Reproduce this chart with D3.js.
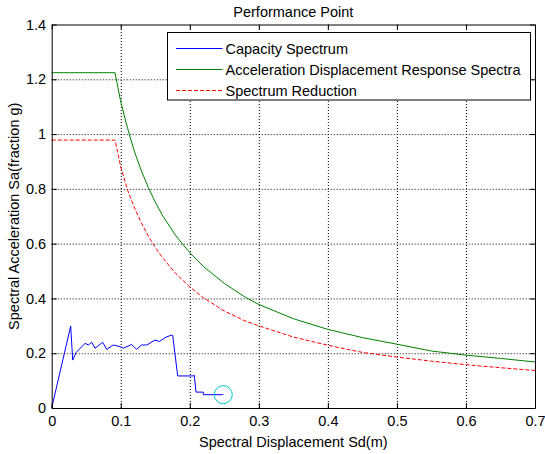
<!DOCTYPE html>
<html>
<head>
<meta charset="utf-8">
<script src="https://cdn.jsdelivr.net/npm/d3@7"></script>
<style>
  body { margin: 0; background: #fff; }
  svg { font-family: "Liberation Sans", Arial, Helvetica, sans-serif; }
  .grid line { stroke: #000; stroke-dasharray: 1,2; stroke-width: 1; }
  .grid path { display: none; }
</style>
</head>
<body>
<div id="container"></div>
<script>
/* CONSTANTS AND GLOBALS */
const width = 545,
  height = 454,
  margin = { top: 24.5, bottom: 46, left: 51.7, right: 10 },
  fontSize = 14.5

/* DATA */
// capacity spectrum
const capSd = [0, 0.0275, 0.0304, 0.0352, 0.0482, 0.053, 0.058, 0.0627, 0.0738, 0.0796, 0.0893,
  0.099, 0.1037, 0.1158, 0.123, 0.130, 0.1376, 0.1496, 0.156, 0.1665, 0.1738, 0.1752,
  0.1825, 0.205, 0.2065, 0.209, 0.2196, 0.2196, 0.2485]
const capSa = [0, 0.299, 0.175, 0.202, 0.236, 0.23, 0.24, 0.218, 0.24, 0.214, 0.23,
  0.224, 0.218, 0.232, 0.214, 0.23, 0.23, 0.248, 0.243, 0.26, 0.266, 0.266,
  0.117, 0.117, 0.12, 0.058, 0.058, 0.0486, 0.0486]

// acceleration displacement response spectra
const adrsSd = [0, 0.0917, 0.1, 0.11, 0.12, 0.13, 0.14, 0.15, 0.16, 0.18, 0.2, 0.22, 0.25, 0.28,
  0.3, 0.35, 0.4, 0.45, 0.5, 0.55, 0.6, 0.65, 0.7]
const adrsSa = [1.224, 1.224, 1.118, 1.02, 0.935, 0.865, 0.805, 0.752, 0.705, 0.628, 0.567, 0.516,
  0.455, 0.405, 0.378, 0.326, 0.287, 0.257, 0.233, 0.208, 0.193, 0.181, 0.168]

// spectrum reduction
const redSd = [0, 0.0917, 0.1, 0.11, 0.12, 0.13, 0.14, 0.15, 0.16, 0.18, 0.2, 0.22, 0.25, 0.28,
  0.3, 0.35, 0.4, 0.45, 0.5, 0.55, 0.6, 0.65, 0.7]
const redSa = [0.978, 0.978, 0.88, 0.795, 0.73, 0.675, 0.627, 0.587, 0.55, 0.49, 0.442, 0.402,
  0.354, 0.318, 0.300, 0.259, 0.229, 0.203, 0.186, 0.171, 0.158, 0.147, 0.137]

// performance point
const perfSd = [0.2485]
const perfSa = [0.0486]

const xTicks = [0, 0.1, 0.2, 0.3, 0.4, 0.5, 0.6, 0.7]
const xTickLabels = ["0", "0.1", "0.2", "0.3", "0.4", "0.5", "0.6", "0.7"]
const yTicks = [0, 0.2, 0.4, 0.6, 0.8, 1, 1.2, 1.4]
const yTickLabels = ["0", "0.2", "0.4", "0.6", "0.8", "1", "1.2", "1.4"]

const legendNames = ["Capacity Spectrum", "Acceleration Displacement Response Spectra", "Spectrum Reduction"]
const colors = ["#0000ff", "#008000", "#ff0000"]
const dashes = [null, null, "4,2"]

/* SCALES */
const xScale = d3.scaleLinear()
  .domain([0, 0.7])
  .range([margin.left, width - margin.right])

const yScale = d3.scaleLinear()
  .domain([0, 1.4])
  .range([height - margin.bottom, margin.top])

/* CREATE SVG ELEMENT */
const svg = d3.select("#container")
  .append("svg")
  .attr("width", width)
  .attr("height", height)

const plotW = width - margin.left - margin.right,
  plotH = height - margin.top - margin.bottom

// GRID
svg.append("g")
  .attr("class", "grid")
  .attr("transform", `translate(0, ${height - margin.bottom})`)
  .call(d3.axisBottom(xScale).tickValues(xTicks.slice(1, -1)).tickSize(-plotH).tickFormat(""))

svg.append("g")
  .attr("class", "grid")
  .attr("transform", `translate(${margin.left}, 0)`)
  .call(d3.axisLeft(yScale).tickValues(yTicks.slice(1, -1)).tickSize(-plotW).tickFormat(""))

// LINES
const series = [
  [capSd, capSa],
  [adrsSd, adrsSa],
  [redSd, redSa]
]

const lineGen = d3.line()
  .x(d => xScale(d[0]))
  .y(d => yScale(d[1]))

svg.append("g")
  .selectAll("path")
  .data(series)
  .join("path")
  .attr("fill", "none")
  .attr("stroke", (d, i) => colors[i])
  .attr("stroke-width", 1)
  .attr("stroke-dasharray", (d, i) => dashes[i])
  .attr("d", ([xs, ys]) => lineGen(xs.map((x, i) => [x, ys[i]])))

// performance point marker
svg.selectAll(".perf")
  .data(perfSd)
  .join("circle")
  .attr("class", "perf")
  .attr("cx", d => xScale(d))
  .attr("cy", (d, i) => yScale(perfSa[i]))
  .attr("r", 9)
  .attr("fill", "none")
  .attr("stroke", "#00c8c8")
  .attr("stroke-width", 1)

// AXES (box with inward ticks)
const styleAxis = g => {
  g.select(".domain").attr("stroke", "#000")
  g.selectAll(".tick line").attr("stroke", "#000")
  g.selectAll(".tick text").attr("font-size", fontSize).attr("fill", "#000")
}

svg.append("g")
  .attr("transform", `translate(0, ${height - margin.bottom})`)
  .call(d3.axisBottom(xScale).tickValues(xTicks).tickSizeInner(-5).tickSizeOuter(0)
    .tickPadding(8).tickFormat((d, i) => xTickLabels[i]))
  .call(styleAxis)

svg.append("g")
  .attr("transform", `translate(0, ${margin.top})`)
  .call(d3.axisTop(xScale).tickValues(xTicks).tickSizeInner(-5).tickSizeOuter(0).tickFormat(""))
  .call(styleAxis)

svg.append("g")
  .attr("transform", `translate(${margin.left}, 0)`)
  .call(d3.axisLeft(yScale).tickValues(yTicks).tickSizeInner(-5).tickSizeOuter(0)
    .tickPadding(5.5).tickFormat((d, i) => yTickLabels[i]))
  .call(styleAxis)

svg.append("g")
  .attr("transform", `translate(${width - margin.right}, 0)`)
  .call(d3.axisRight(yScale).tickValues(yTicks).tickSizeInner(-5).tickSizeOuter(0).tickFormat(""))
  .call(styleAxis)

// TITLE AND LABELS
svg.append("text")
  .attr("x", (margin.left + width - margin.right) / 2)
  .attr("y", 17)
  .attr("text-anchor", "middle")
  .attr("font-size", fontSize)
  .text("Performance Point")

svg.append("text")
  .attr("x", (margin.left + width - margin.right) / 2)
  .attr("y", 447)
  .attr("text-anchor", "middle")
  .attr("font-size", fontSize)
  .text("Spectral Displacement Sd(m)")

svg.append("text")
  .attr("transform", `translate(19, ${(margin.top + height - margin.bottom) / 2}) rotate(-90)`)
  .attr("text-anchor", "middle")
  .attr("font-size", fontSize)
  .text("Spectral Acceleration Sa(fraction g)")

// LEGEND
const legend = svg.append("g")
  .attr("transform", "translate(167.5, 32.5)")

legend.append("rect")
  .attr("width", 363)
  .attr("height", 67.5)
  .attr("fill", "#fff")
  .attr("stroke", "#000")

const rows = legend.selectAll(".row")
  .data(legendNames)
  .join("g")
  .attr("class", "row")
  .attr("transform", (d, i) => `translate(0, ${16 + i * 21})`)

rows.append("line")
  .attr("x1", 8.5)
  .attr("x2", 55)
  .attr("stroke", (d, i) => colors[i])
  .attr("stroke-dasharray", (d, i) => dashes[i])

rows.append("text")
  .attr("x", 58)
  .attr("y", 5)
  .attr("font-size", fontSize)
  .text(d => d)
</script>
</body>
</html>
